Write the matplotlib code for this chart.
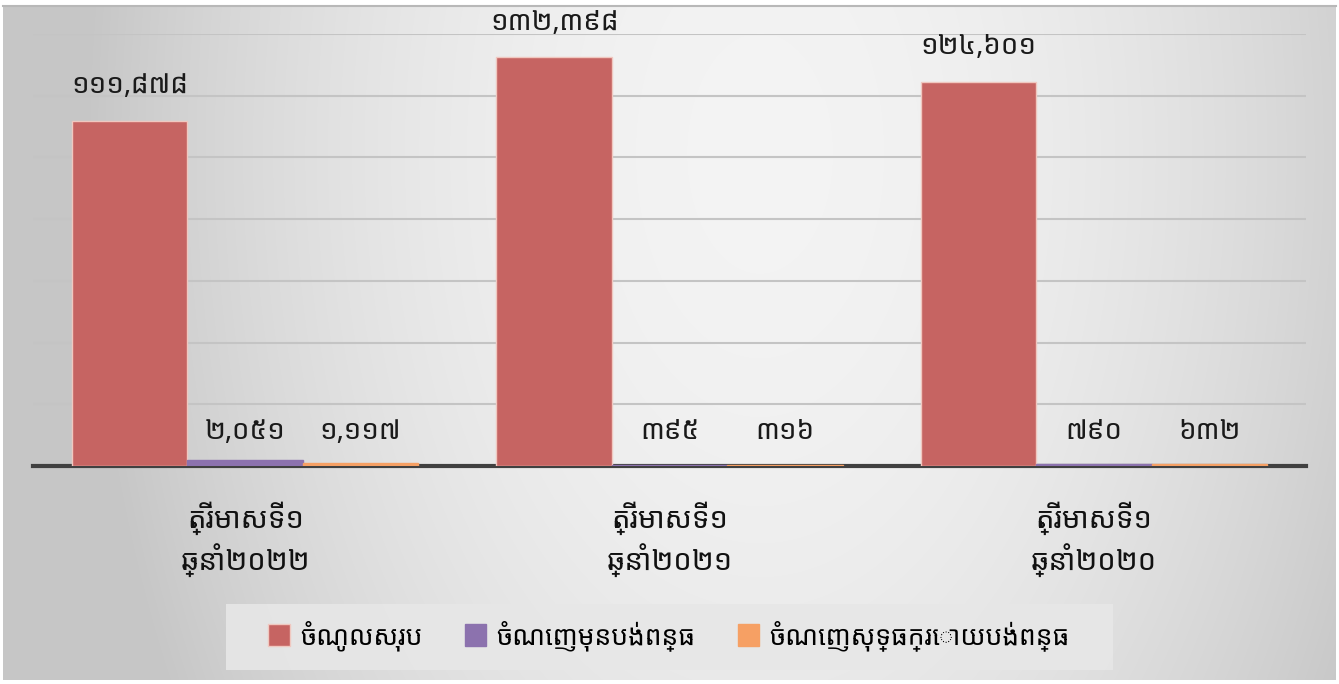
import numpy as np
import matplotlib
matplotlib.use("Agg")
import matplotlib.pyplot as plt
from matplotlib.patches import Rectangle

plt.rcParams['font.family'] = ['Noto Sans Khmer', 'Khmer OS', 'Noto Sans', 'DejaVu Sans']

categories = ["ត្រីមាសទី១\nឆ្នាំ២០២២", "ត្រីមាសទី១\nឆ្នាំ២០២១", "ត្រីមាសទី១\nឆ្នាំ២០២០"]
series_names = ["ចំណូលសរុប", "ចំណេញមុនបង់ពន្ធ", "ចំណេញសុទ្ធក្រោយបង់ពន្ធ"]
total_income = [111878, 132398, 124601]
profit_before_tax = [2051, 395, 790]
net_profit = [1117, 316, 632]
value_labels = [
    ["១១១,៨៧៨", "១៣២,៣៩៨", "១២៤,៦០១"],
    ["២,០៥១", "៣៩៥", "៧៩០"],
    ["១,១១៧", "៣១៦", "៦៣២"],
]
colors = ["#C66462", "#8C72AE", "#F6A064"]

W, H = 1339, 684
fig = plt.figure(figsize=(W / 100, H / 100), dpi=100)
fig.patch.set_facecolor("white")

# background gradient panel
bg = fig.add_axes([0, 0, 1, 1], zorder=-5)
bg.set_xlim(0, W)
bg.set_ylim(H, 0)
bg.axis("off")
yy, xx = np.mgrid[0:H, 0:W]
nx = (xx - 760) / 720.0
ny = (yy - 150) / 1200.0
r2 = nx ** 2 + ny ** 2
val = 0.955 - 0.20 * r2
val = np.clip(val, 0.78, 0.96)
img = np.dstack([val, val, val])
bg.imshow(img, extent=[3, 1336, 680, 5], aspect="auto", interpolation="bilinear")
bg.plot([3, 1336], [5.5, 5.5], color="#b8b8b8", lw=1.5)
bg.add_patch(Rectangle((226, 604), 887, 66, facecolor="#e7e7e7", edgecolor="none", alpha=0.9))

ax = fig.add_axes([33 / W, 1 - 466 / H, (1306 - 33) / W, (466 - 34) / H])
ax.set_facecolor("none")
ax.set_xlim(-0.5, 2.5)
ax.set_ylim(0, 140000)
ax.set_yticks(np.arange(0, 140001, 20000))
ax.yaxis.grid(True, color="#c4c4c4", lw=1.5)
ax.set_axisbelow(True)
for s in ["left", "right", "top"]:
    ax.spines[s].set_visible(False)
ax.spines["bottom"].set_color("#404040")
ax.spines["bottom"].set_linewidth(3)
ax.tick_params(axis="y", left=False, labelleft=False)
ax.tick_params(axis="x", bottom=False, pad=22)

x = np.arange(len(categories))
bw = 0.272
data = [total_income, profit_before_tax, net_profit]
for i, (vals, c, name) in enumerate(zip(data, colors, series_names)):
    pos = x + (i - 1) * bw
    ax.bar(pos, vals, width=bw, color=c, edgecolor="#f0c8c0" if i == 0 else c,
           linewidth=1, label=name, zorder=3)
    for j, v in enumerate(vals):
        ycen = v + 11200 if i == 0 else 11000
        ax.text(pos[j], ycen, value_labels[i][j], ha="center", va="center",
                fontsize=20, color="#1a1a1a", zorder=4)

ax.set_xticks(x)
ax.set_xticklabels(categories, fontsize=21, fontweight="bold", color="#111111",
                   linespacing=1.32)

leg = fig.legend(loc="center", bbox_to_anchor=(669 / W, 1 - 636 / H), ncol=3,
                 frameon=False, fontsize=19, handlelength=0.8, handleheight=0.9,
                 columnspacing=1.6, handletextpad=0.4)
for t in leg.get_texts():
    t.set_fontweight("bold")

fig.savefig("out.png", dpi=100, facecolor=fig.get_facecolor())
